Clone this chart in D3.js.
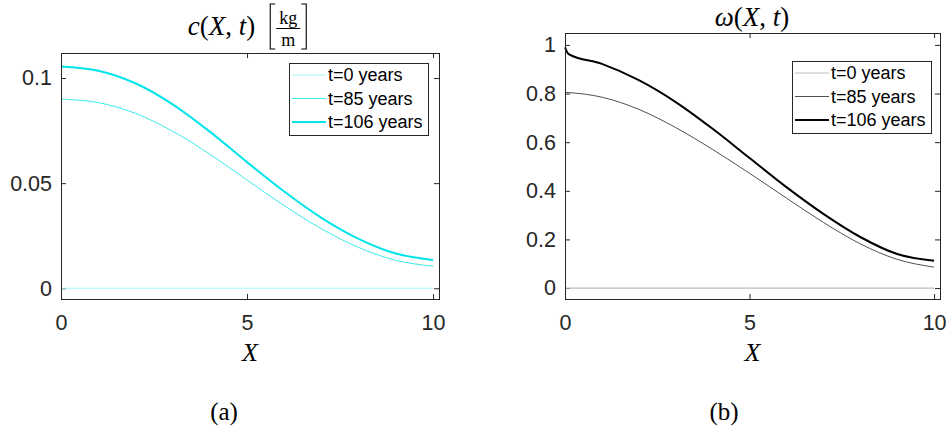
<!DOCTYPE html>
<html><head><meta charset="utf-8">
<script src="https://cdn.jsdelivr.net/npm/d3@7"></script>
<style>body{margin:0;background:#fff}svg{display:block}</style>
</head><body>
<svg id="chart" width="952" height="432"></svg>
<script>
// ---------- data ----------
const xs = [0, 0.1, 1, 2, 3, 4, 5, 6, 7, 8, 9, 10];
const cT0   = [0, 0, 0, 0, 0, 0, 0, 0, 0, 0, 0, 0];
const cT85  = [0.0900, 0.0899, 0.0883, 0.0832, 0.0747, 0.0638, 0.0515, 0.0393, 0.0283, 0.0194, 0.0133, 0.0105];
const cT106 = [0.1055, 0.1054, 0.1035, 0.0975, 0.0875, 0.0745, 0.0600, 0.0460, 0.0335, 0.0235, 0.0165, 0.0135];
const wT0   = [0, 0, 0, 0, 0, 0, 0, 0, 0, 0, 0, 0];
const wT85  = [0.805, 0.804, 0.785, 0.735, 0.66, 0.57, 0.472, 0.37, 0.27, 0.182, 0.118, 0.086];
const wT106 = [0.99, 0.962, 0.922, 0.855, 0.765, 0.655, 0.535, 0.415, 0.305, 0.21, 0.14, 0.112];
const legendLabels = ["t=0 years", "t=85 years", "t=106 years"];
const xTicks = [0, 5, 10];
const cTicks = [0, 0.05, 0.1];
const wTicks = [0, 0.2, 0.4, 0.6, 0.8, 1];
const xDomain = [0, 10.16];
const cDomain = [-0.0051, 0.1119];
const wDomain = [-0.045, 1.049];

const svg = d3.select("#chart");
const AX = "#262626";
const SERIF = "'Liberation Serif','DejaVu Serif',serif";
const SANS = "'Liberation Sans',Arial,sans-serif";

function panel(o) {
  const x = d3.scaleLinear().domain(xDomain).range([o.left, o.right]);
  const y = d3.scaleLinear().domain(o.yDomain).range([o.bottom, o.top]);
  const g = svg.append("g");
  const fmt = d => String(d);
  const styleAxis = sel => {
    sel.select(".domain").remove();
    sel.selectAll(".tick line").attr("stroke", AX);
    sel.selectAll(".tick text").attr("fill", AX).style("font-family", SANS).style("font-size", "21.5px");
  };
  g.append("g").attr("transform", `translate(0,${o.bottom})`)
    .call(d3.axisBottom(x).tickValues(xTicks).tickSize(-5).tickPadding(16).tickFormat(fmt)).call(styleAxis);
  g.append("g").attr("transform", `translate(0,${o.top})`)
    .call(d3.axisTop(x).tickValues(xTicks).tickSize(-5).tickFormat("")).call(styleAxis);
  g.append("g").attr("transform", `translate(${o.left},0)`)
    .call(d3.axisLeft(y).tickValues(o.yTicks).tickSize(-5).tickPadding(9).tickFormat(fmt)).call(styleAxis);
  g.append("g").attr("transform", `translate(${o.right},0)`)
    .call(d3.axisRight(y).tickValues(o.yTicks).tickSize(-5).tickFormat("")).call(styleAxis);

  const line = d3.line().x((d, i) => x(xs[i])).y(d => y(d)).curve(d3.curveMonotoneX);
  o.series.forEach((s, k) => {
    g.append("path").datum(s).attr("d", line).attr("fill", "none")
      .attr("stroke", o.colors[k]).attr("stroke-width", o.widths[k]);
  });
  g.append("rect").attr("x", o.left + 0.5).attr("y", o.top + 0.5)
    .attr("width", o.right - o.left).attr("height", o.bottom - o.top)
    .attr("fill", "none").attr("stroke", AX).attr("stroke-width", 1);

  // legend
  const L = o.legend;
  g.append("rect").attr("x", L.x + 0.5).attr("y", L.y + 0.5).attr("width", L.w).attr("height", L.h)
    .attr("fill", "#fff").attr("stroke", AX).attr("stroke-width", 1);
  legendLabels.forEach((lab, k) => {
    const yy = L.y + 12 + k * 23.5;
    g.append("line").attr("x1", L.x + 3).attr("x2", L.x + 37).attr("y1", yy).attr("y2", yy)
      .attr("stroke", o.colors[k]).attr("stroke-width", o.widths[k]);
    g.append("text").attr("x", L.x + 39).attr("y", yy).attr("dy", "0.35em")
      .style("font-family", SANS).style("font-size", "18px").attr("fill", "#000").text(lab);
  });

  // x label
  g.append("text").attr("x", (o.left + o.right) / 2).attr("y", 361).attr("text-anchor", "middle")
    .style("font-family", SERIF).style("font-size", "26px").style("font-style", "italic").text("X");
  // subcaption
  g.append("text").attr("x", o.capX).attr("y", 420).attr("text-anchor", "middle")
    .style("font-family", SERIF).style("font-size", "25px").text(o.caption);
  return g;
}

function mathTitle(g, sym, baseline) {
  const t = g.append("text").attr("x", 0).attr("y", baseline)
    .style("font-family", SERIF).style("font-size", "27px");
  t.append("tspan").style("font-style", "italic").text(sym);
  t.append("tspan").text("(");
  t.append("tspan").style("font-style", "italic").text("X");
  t.append("tspan").text(", ");
  t.append("tspan").style("font-style", "italic").text("t");
  t.append("tspan").text(")");
  return t;
}

const gA = panel({
  left: 61, right: 439, top: 53, bottom: 299, yDomain: cDomain, yTicks: cTicks,
  series: [cT0, cT85, cT106], colors: ["#a6f6f6", "#3deaea", "#00e4ea"], widths: [1, 1, 2],
  legend: { x: 289, y: 63, w: 139, h: 72 }, capX: 224, caption: "(a)"
});
const gB = panel({
  left: 565, right: 940, top: 33, bottom: 299, yDomain: wDomain, yTicks: wTicks,
  series: [wT0, wT85, wT106], colors: ["#bdbdbd", "#505050", "#000000"], widths: [1.2, 1, 2],
  legend: { x: 792, y: 61, w: 139, h: 72 }, capX: 724, caption: "(b)"
});

// title (a): c(X,t) [kg/m]
{
  const tg = gA.append("g");
  const t = mathTitle(tg, "c", 35);
  const w = t.node().getComputedTextLength();
  const bx = w + 15;
  const bw = 36;
  const br = tg.append("g").attr("fill", "none").attr("stroke", "#000").attr("stroke-width", 1.1);
  br.append("path").attr("d", `M${bx + 5},4 H${bx} V49 H${bx + 5}`);
  br.append("path").attr("d", `M${bx + bw - 5},4 H${bx + bw} V49 H${bx + bw - 5}`);
  tg.append("line").attr("x1", bx + 6).attr("x2", bx + bw - 6).attr("y1", 28.5).attr("y2", 28.5)
    .attr("stroke", "#000").attr("stroke-width", 1);
  tg.append("text").attr("x", bx + bw / 2).attr("y", 24).attr("text-anchor", "middle")
    .style("font-family", SERIF).style("font-size", "18px").text("kg");
  tg.append("text").attr("x", bx + bw / 2).attr("y", 46).attr("text-anchor", "middle")
    .style("font-family", SERIF).style("font-size", "18px").text("m");
  const total = bx + bw;
  tg.attr("transform", `translate(${247 - total / 2},0)`);
}
// title (b): ω(X,t)
{
  const tg = gB.append("g");
  const t = mathTitle(tg, "ω", 26);
  const w = t.node().getComputedTextLength();
  tg.attr("transform", `translate(${752 - w / 2},0)`);
}
</script>
</body></html>
